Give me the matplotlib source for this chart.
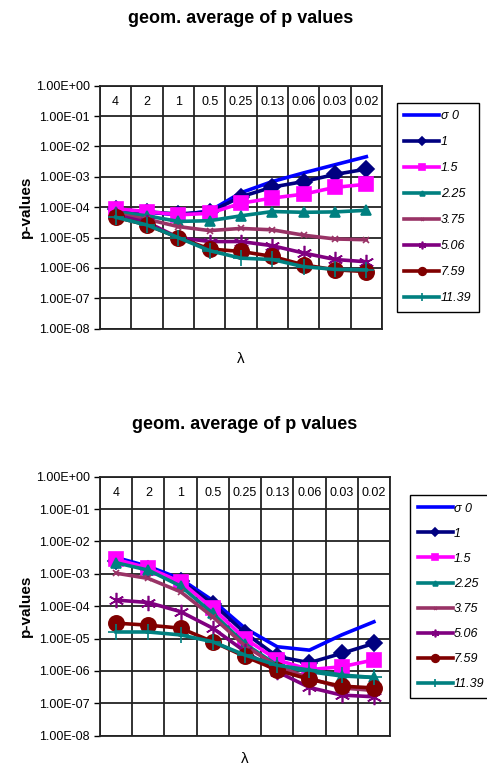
#!/usr/bin/env python

import numpy as np
import matplotlib
matplotlib.use('Agg')
import matplotlib.pyplot as plt
from matplotlib.ticker import FuncFormatter, NullLocator

plt.rcParams['font.family'] = ['Liberation Sans', 'DejaVu Sans']

# categories (lambda) and series names
lam_labels = ['4', '2', '1', '0.5', '0.25', '0.13', '0.06', '0.03', '0.02']
sigma_labels = ['\u03c3 0', '1', '1.5', '2.25', '3.75', '5.06', '7.59', '11.39']

# upper chart, one list per sigma
top_s0    = [8.5e-5, 7.0e-5, 5.5e-5, 7.5e-5, 3.0e-4, 7.0e-4, 1.35e-3, 2.5e-3, 4.6e-3]
top_s1    = [8.5e-5, 7.0e-5, 6.0e-5, 7.0e-5, 2.2e-4, 4.6e-4, 7.0e-4, 1.2e-3, 1.8e-3]
top_s1_5  = [8.9e-5, 7.2e-5, 5.6e-5, 6.3e-5, 1.35e-4, 2.0e-4, 2.7e-4, 4.5e-4, 5.7e-4]
top_s2_25 = [7.0e-5, 5.2e-5, 3.4e-5, 3.6e-5, 5.2e-5, 7.2e-5, 6.8e-5, 7.0e-5, 7.9e-5]
top_s3_75 = [6.0e-5, 4.0e-5, 2.3e-5, 1.7e-5, 2.0e-5, 1.8e-5, 1.2e-5, 9.0e-6, 8.5e-6]
top_s5_06 = [5.5e-5, 3.2e-5, 1.0e-5, 7.4e-6, 7.4e-6, 5.4e-6, 3.1e-6, 1.9e-6, 1.6e-6]
top_s7_59 = [4.7e-5, 2.6e-5, 1.0e-5, 4.2e-6, 3.5e-6, 2.4e-6, 1.26e-6, 8.7e-7, 7.6e-7]
top_s11_39 = [4.7e-5, 2.6e-5, 1.0e-5, 3.7e-6, 2.1e-6, 1.9e-6, 1.1e-6, 9.0e-7, 8.6e-7]

# lower chart
bot_s0    = [3.2e-3, 1.7e-3, 7.0e-4, 1.5e-4, 2.1e-5, 5.6e-6, 4.4e-6, 1.3e-5, 3.3e-5]
bot_s1    = [2.5e-3, 1.4e-3, 6.0e-4, 1.2e-4, 1.5e-5, 2.8e-6, 1.8e-6, 3.5e-6, 7.1e-6]
bot_s1_5  = [2.8e-3, 1.5e-3, 5.7e-4, 8.6e-5, 1.0e-5, 2.2e-6, 1.1e-6, 1.35e-6, 2.2e-6]
bot_s2_25 = [2.2e-3, 1.3e-3, 4.2e-4, 6.0e-5, 6.9e-6, 1.5e-6, 9.5e-7, 7.0e-7, 6.3e-7]
bot_s3_75 = [1.05e-3, 7.2e-4, 2.8e-4, 4.7e-5, 6.0e-6, 1.4e-6, 6.0e-7, 3.0e-7, 2.5e-7]
bot_s5_06 = [1.55e-4, 1.3e-4, 6.8e-5, 2.1e-5, 4.0e-6, 9.5e-7, 3.1e-7, 1.8e-7, 1.6e-7]
bot_s7_59 = [3.0e-5, 2.6e-5, 2.1e-5, 8.0e-6, 2.8e-6, 1.07e-6, 5.5e-7, 3.4e-7, 3.0e-7]
bot_s11_39 = [1.6e-5, 1.6e-5, 1.3e-5, 8.0e-6, 3.1e-6, 1.5e-6, 1.07e-6, 7.5e-7, 6.3e-7]

top_series = [top_s0, top_s1, top_s1_5, top_s2_25, top_s3_75, top_s5_06, top_s7_59, top_s11_39]
bot_series = [bot_s0, bot_s1, bot_s1_5, bot_s2_25, bot_s3_75, bot_s5_06, bot_s7_59, bot_s11_39]

# excel-like styles
colors = ['#0000FF', '#000080', '#FF00FF', '#008080', '#993366', '#800080', '#800000', '#008080']
markers = ['None', 'D', 's', '^', 'x', (6, 2, 0), 'o', '+']
msizes = [0, 8, 10, 7, 4, 11, 11, 11]


def draw_chart(ax, series, leg_anchor, title_pad, lab_space, xlab_pad):
    x = np.arange(len(lam_labels))
    for vals, lab, c, m, ms in zip(series, sigma_labels, colors, markers, msizes):
        ax.plot(x, vals, color=c, lw=2.6, marker=m, ms=ms, mfc=c, mec=c,
                mew=1.2, label=lab, zorder=3)

    ax.set_yscale('log')
    ax.set_ylim(1e-8, 1)
    ax.set_xlim(-0.5, len(lam_labels) - 0.5)
    ax.set_yticks(10.0 ** np.arange(-8, 1))
    ax.yaxis.set_minor_locator(NullLocator())
    ax.yaxis.set_major_formatter(FuncFormatter(lambda v, p: '{:.2E}'.format(v)))
    ax.tick_params(axis='y', labelsize=9, length=4, width=1, direction='out')

    # lambda labels inside the top row
    ax.xaxis.tick_top()
    ax.set_xticks(x)
    ax.set_xticklabels(lam_labels)
    ax.tick_params(axis='x', which='both', length=0, pad=-16, labelsize=9)
    ax.set_xticks(np.arange(-0.5, len(lam_labels)), minor=True)

    ax.grid(True, which='major', axis='y', color='#222222', lw=1.3)
    ax.grid(True, which='minor', axis='x', color='#222222', lw=1.3)
    for s in ax.spines.values():
        s.set_color('#222222')
        s.set_linewidth(1.3)

    ax.set_title('geom. average of p values', fontsize=13, fontweight='bold', pad=title_pad)
    ax.set_ylabel('p-values', fontsize=11, fontweight='bold', labelpad=2)
    ax.xaxis.set_label_position('bottom')
    ax.set_xlabel('\u03bb', fontsize=11, labelpad=xlab_pad)

    leg = ax.legend(loc='upper left', bbox_to_anchor=leg_anchor, borderaxespad=0,
                    fancybox=False, edgecolor='black', framealpha=1,
                    prop={'style': 'italic', 'size': 9}, handlelength=2.8,
                    handletextpad=0.1, labelspacing=lab_space, markerscale=0.5,
                    borderpad=0.6)
    leg.get_frame().set_linewidth(1.0)


fig = plt.figure(figsize=(4.87, 7.7), dpi=100)
ax1 = fig.add_axes([0.2053, 0.5731, 0.5791, 0.3156])
ax2 = fig.add_axes([0.2053, 0.0445, 0.5955, 0.3364])

draw_chart(ax1, top_series, (1.053, 0.929), 45, 1.12, 17)
draw_chart(ax2, bot_series, (1.069, 0.929), 34, 1.05, 12)

fig.savefig('out.png', dpi=100)
